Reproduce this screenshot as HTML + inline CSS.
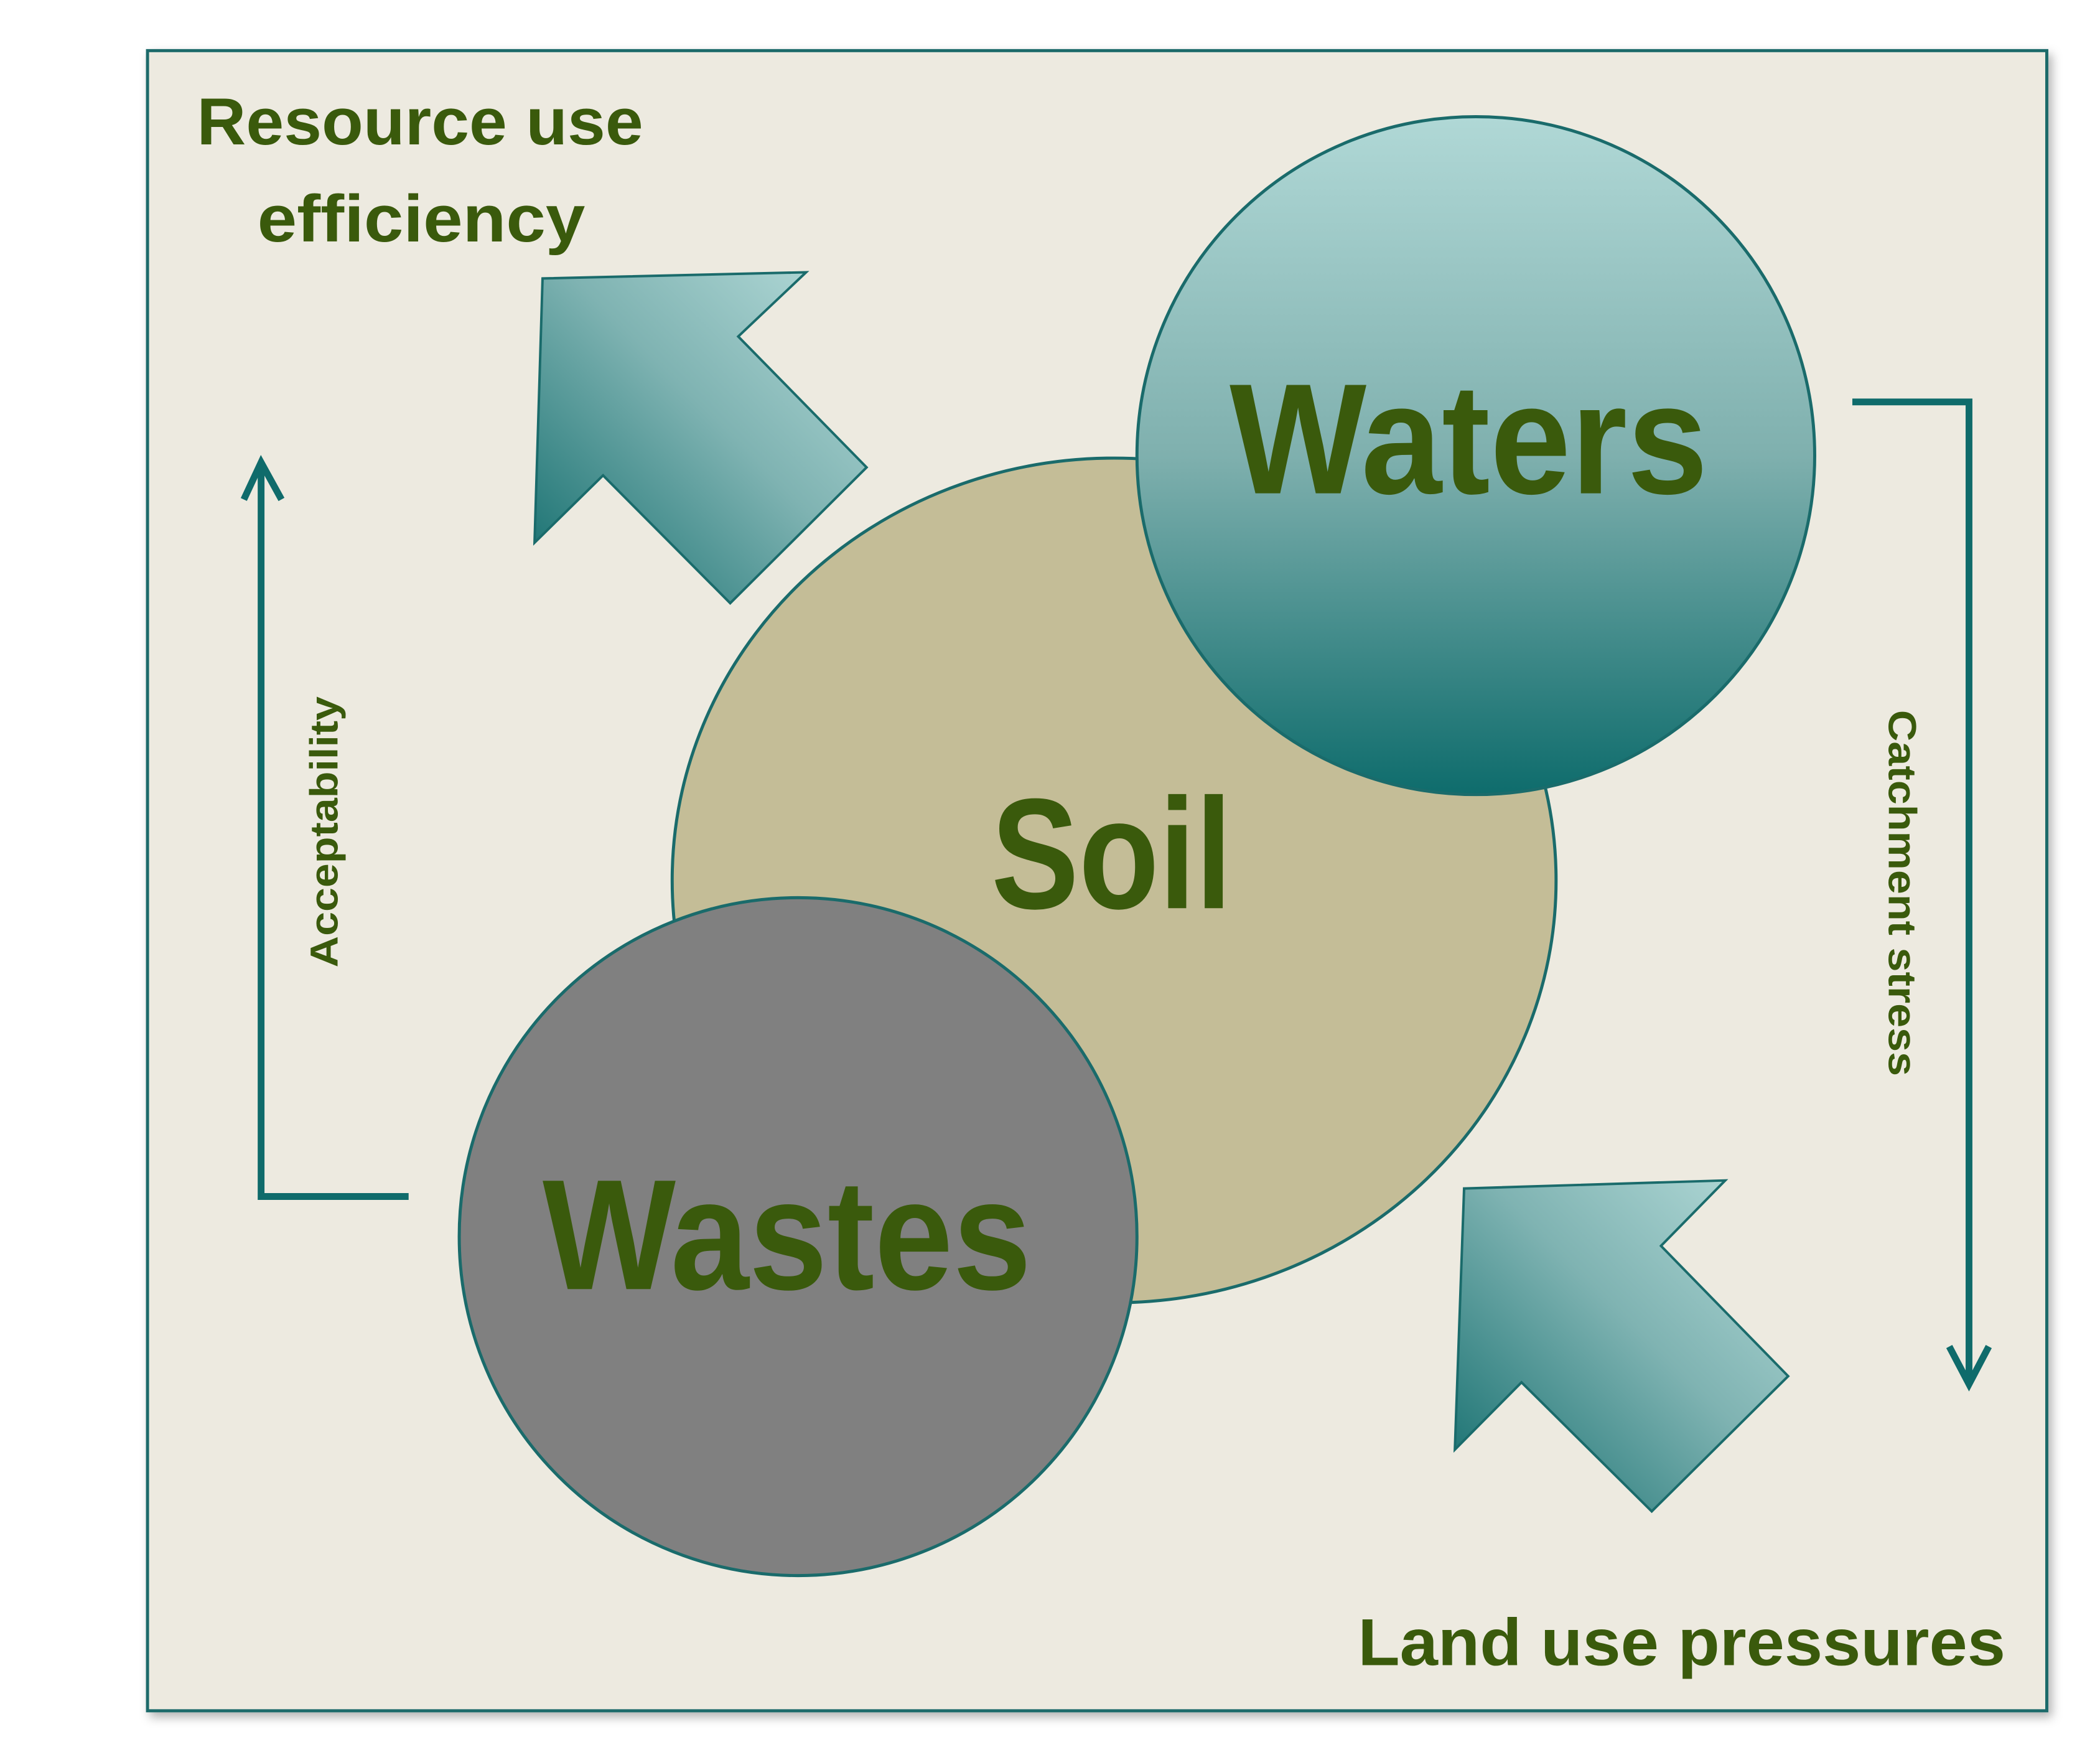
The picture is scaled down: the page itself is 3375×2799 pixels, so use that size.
<!DOCTYPE html>
<html><head><meta charset="utf-8"><style>html,body{margin:0;padding:0;background:#fff}svg{display:block}</style></head>
<body>
<svg width="3375" height="2799" viewBox="0 0 3375 2799" xmlns="http://www.w3.org/2000/svg">
<defs>
<linearGradient id="wg" x1="0" y1="0" x2="0" y2="1">
<stop offset="0" stop-color="#b0d8d6"/><stop offset="0.5" stop-color="#7fb0ae"/><stop offset="1" stop-color="#0e6c6c"/>
</linearGradient>
<linearGradient id="ag" x1="0" y1="1" x2="1" y2="0">
<stop offset="0" stop-color="#0f6b6b"/><stop offset="0.55" stop-color="#7fb3b2"/><stop offset="1" stop-color="#b6dcda"/>
</linearGradient>
<filter id="sh" x="-5%" y="-5%" width="110%" height="110%"><feDropShadow dx="6" dy="8" stdDeviation="8" flood-color="#000" flood-opacity="0.3"/></filter>
</defs>
<g transform="scale(0.992)">
<rect x="239" y="82" width="3077" height="2689" fill="#edeae0" stroke="#1a6b6b" stroke-width="5" filter="url(#sh)"/>
<g font-family="'Liberation Sans', sans-serif" font-weight="bold" fill="#3a5a0c">
<text x="319" y="234" font-size="108" textLength="723" lengthAdjust="spacingAndGlyphs">Resource use</text>
<text x="417" y="391" font-size="108" textLength="531" lengthAdjust="spacingAndGlyphs">efficiency</text>
<text x="2200" y="2697" font-size="108" textLength="1049" lengthAdjust="spacingAndGlyphs">Land use pressures</text>
<text transform="translate(547,1567) rotate(-90)" font-size="64" textLength="439" lengthAdjust="spacingAndGlyphs">Acceptability</text>
<text transform="translate(3060,1150) rotate(90)" font-size="64" textLength="593" lengthAdjust="spacingAndGlyphs">Catchment stress</text>
</g>
<polygon points="879,451 1306,441 1196,545 1404,757 1183,977 977,770 866,879" fill="url(#ag)" stroke="#1a6b6b" stroke-width="4"/>
<polygon points="2372,1925 2795,1912 2691,2018 2897,2229 2676,2448 2465,2239 2357,2348" fill="url(#ag)" stroke="#1a6b6b" stroke-width="4"/>
<g fill="none" stroke="#0f6b6b" stroke-width="11" stroke-linejoin="miter">
<polyline points="662,1938 423,1938 423,749"/>
<polyline points="395,809 423,749 456,809"/>
<polyline points="3001,651 3190,651 3190,2242"/>
<polyline points="3158,2181 3190,2242 3222,2181"/>
</g>
<ellipse cx="1805" cy="1426" rx="716" ry="684" fill="#c4bd97" stroke="#1a6b6b" stroke-width="5"/>
<circle cx="2391" cy="738" r="549" fill="url(#wg)" stroke="#1a6b6b" stroke-width="5"/>
<circle cx="1293" cy="2003" r="549" fill="#808080" stroke="#1a6b6b" stroke-width="5"/>
<g font-family="'Liberation Sans', sans-serif" font-weight="bold" fill="#3a5a0c">
<text x="1992" y="799" font-size="255" textLength="775" lengthAdjust="spacingAndGlyphs">Waters</text>
<text x="1606" y="1471" font-size="255" textLength="390" lengthAdjust="spacingAndGlyphs">Soil</text>
<text x="879" y="2088" font-size="255" textLength="792" lengthAdjust="spacingAndGlyphs">Wastes</text>
</g>
</g>
</svg>
</body></html>
